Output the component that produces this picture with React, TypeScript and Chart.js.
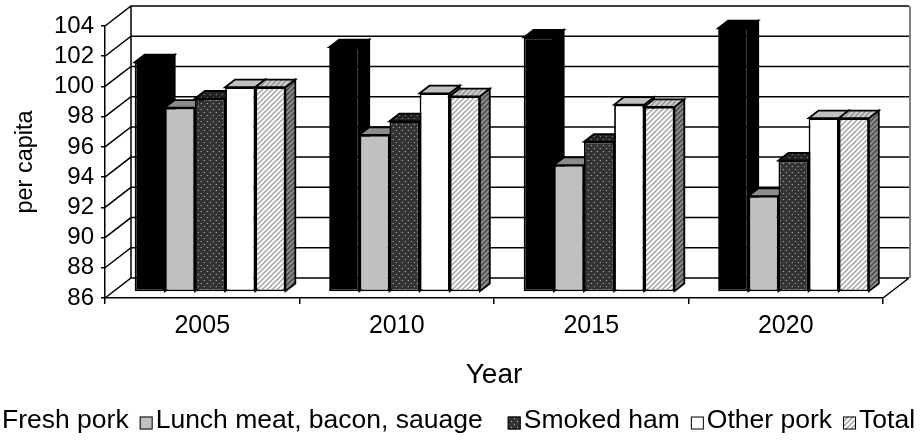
import React, { useEffect, useRef } from 'react';
import { Chart, registerables } from 'chart.js';

Chart.register(...registerables);

// ---------- data ----------
const years = ['2005', '2010', '2015', '2020'];
const seriesNames = ['Fresh pork', 'Lunch meat, bacon, sauage', 'Smoked ham', 'Other pork', 'Total'];
const freshPork = [101.2, 102.2, 102.85, 103.45];
const lunchMeat = [98.2, 96.4, 94.4, 92.35];
const smokedHam = [98.8, 97.3, 95.95, 94.7];
const otherPork = [99.55, 99.15, 98.4, 97.5];
const totalPork = [99.55, 98.95, 98.25, 97.5];
const yMin = 86;
const yMax = 104;
const yStep = 2;
const xTitle = 'Year';
const yTitle = 'per capita';

// ---------- style ----------
const FONT = '"Liberation Sans", Arial, sans-serif';
const DEPTH_X = 26; // full floor depth (oblique projection)
const DEPTH_Y = -20;
const BAR_FRONT = 0.3; // bars' front plane, fraction of depth
const BAR_DEPTH = 0.38; // bars' depth, fraction of depth
const OUTLINE = 1.8;

function makePattern(kind: string, bg: string, fg: string): CanvasPattern | string {
  const c = document.createElement('canvas');
  const s = kind === 'dots' ? 6 : 5;
  c.width = s;
  c.height = s;
  const g = c.getContext('2d');
  if (!g) return bg;
  g.fillStyle = bg;
  g.fillRect(0, 0, s, s);
  if (kind === 'dots') {
    g.fillStyle = fg;
    g.fillRect(1, 1, 1, 1);
    g.fillRect(4, 4, 1, 1);
  } else {
    g.strokeStyle = fg;
    g.lineWidth = 1.3;
    g.beginPath();
    g.moveTo(-1, s + 1);
    g.lineTo(s + 1, -1);
    g.moveTo(-1, 1);
    g.lineTo(1, -1);
    g.moveTo(s - 1, s + 1);
    g.lineTo(s + 1, s - 1);
    g.stroke();
  }
  return g.createPattern(c, 'repeat') || bg;
}

export default function App() {
  const ref = useRef<HTMLCanvasElement | null>(null);

  useEffect(() => {
    const canvas = ref.current;
    if (!canvas) return;

    const fronts: any[] = [
      '#000000',
      '#c0c0c0',
      makePattern('dots', '#333333', '#bdbdbd'),
      '#ffffff',
      makePattern('hatch', '#ffffff', '#9a9a9a'),
    ];
    const tops: any[] = [
      '#000000',
      '#8c8c8c',
      makePattern('dots', '#222222', '#9a9a9a'),
      '#c0c0c0',
      makePattern('hatch', '#d4d4d4', '#8a8a8a'),
    ];
    const sides: any[] = [
      '#000000',
      '#6e6e6e',
      makePattern('dots', '#1a1a1a', '#808080'),
      '#9a9a9a',
      makePattern('hatch', '#8f8f8f', '#404040'),
    ];

    const values = [freshPork, lunchMeat, smokedHam, otherPork, totalPork];

    const walls = {
      id: 'walls3d',
      beforeDatasetsDraw(chart: any) {
        const { ctx, chartArea: a, scales } = chart;
        const y = scales.y;
        ctx.save();
        ctx.strokeStyle = '#000';
        ctx.lineWidth = 1.5;
        ctx.beginPath();
        for (const t of y.ticks) {
          const py = y.getPixelForValue(t.value);
          ctx.moveTo(a.left, py);
          ctx.lineTo(a.left + DEPTH_X, py + DEPTH_Y);
          ctx.lineTo(a.right + DEPTH_X, py + DEPTH_Y);
        }
        ctx.moveTo(a.left + DEPTH_X, a.top + DEPTH_Y);
        ctx.lineTo(a.left + DEPTH_X, a.bottom + DEPTH_Y);
        ctx.moveTo(a.right, a.bottom);
        ctx.lineTo(a.right + DEPTH_X, a.bottom + DEPTH_Y);
        ctx.stroke();
        ctx.strokeStyle = '#808080';
        ctx.lineWidth = 2;
        ctx.beginPath();
        ctx.moveTo(a.right + DEPTH_X + 1, a.top + DEPTH_Y);
        ctx.lineTo(a.right + DEPTH_X + 1, a.bottom + DEPTH_Y);
        ctx.stroke();
        ctx.restore();
      },
      // Chart.js paints datasets last-to-first; the 3D bars need left-to-right order,
      // so the library's per-dataset pass is skipped and the elements are drawn below.
      beforeDatasetDraw() {
        return false;
      },
      afterDatasetsDraw(chart: any) {
        const { ctx } = chart;
        const ddx = DEPTH_X * BAR_DEPTH;
        const ddy = DEPTH_Y * BAR_DEPTH;
        const metas = seriesNames.map((_, i) => chart.getDatasetMeta(i));
        ctx.save();
        ctx.translate(DEPTH_X * BAR_FRONT, DEPTH_Y * BAR_FRONT);
        ctx.lineJoin = 'miter';
        for (let c = 0; c < years.length; c++) {
          metas.forEach((meta: any, i: number) => {
            const el = meta.data[c];
            if (!el) return;
            const p = el.getProps(['x', 'y', 'base', 'width'], true);
            const l = p.x - p.width / 2;
            const r = p.x + p.width / 2;
            const top = p.y;
            const base = p.base;
            ctx.lineWidth = OUTLINE;
            ctx.strokeStyle = '#000';
            // side face
            ctx.beginPath();
            ctx.moveTo(r, top);
            ctx.lineTo(r + ddx, top + ddy);
            ctx.lineTo(r + ddx, base + ddy);
            ctx.lineTo(r, base);
            ctx.closePath();
            ctx.fillStyle = sides[i];
            ctx.fill();
            ctx.stroke();
            // top face
            ctx.beginPath();
            ctx.moveTo(l, top);
            ctx.lineTo(l + ddx, top + ddy);
            ctx.lineTo(r + ddx, top + ddy);
            ctx.lineTo(r, top);
            ctx.closePath();
            ctx.fillStyle = tops[i];
            ctx.fill();
            ctx.stroke();
            // front face: the library's own bar element
            el.draw(ctx, chart.chartArea);
          });
        }
        ctx.restore();
      },
      afterDraw(chart: any) {
        const { ctx } = chart;
        ctx.save();
        ctx.font = `26.5px ${FONT}`;
        ctx.textBaseline = 'middle';
        ctx.textAlign = 'left';
        const sw = 13;
        const ly = 421;
        let x = 2 - 3 - sw;
        seriesNames.forEach((name, i) => {
          ctx.fillStyle = fronts[i];
          ctx.fillRect(x, ly - sw / 2 + 2, sw, sw);
          ctx.strokeStyle = '#000';
          ctx.lineWidth = 1;
          ctx.strokeRect(x + 0.5, ly - sw / 2 + 2.5, sw - 1, sw - 1);
          ctx.fillStyle = '#000';
          ctx.fillText(name, x + sw + 3, ly);
          const w = ctx.measureText(name).width;
          x += sw + 3 + w + (i === 1 ? 25 : 11);
        });
        ctx.restore();
      },
    };

    const chart = new Chart(canvas, {
      type: 'bar',
      data: {
        labels: years,
        datasets: seriesNames.map((name, i) => ({
          label: name,
          data: values[i],
          base: yMin,
          backgroundColor: fronts[i],
          borderColor: '#000',
          borderWidth: OUTLINE,
          borderSkipped: false,
          clip: false,
          categoryPercentage: 0.775,
          barPercentage: 1,
        })),
      },
      options: {
        responsive: false,
        animation: false,
        devicePixelRatio: 1,
        events: [],
        layout: { padding: { left: 0, top: 26, right: 38, bottom: 40 } },
        plugins: { legend: { display: false }, tooltip: { enabled: false } },
        scales: {
          x: {
            grid: {
              display: true,
              drawOnChartArea: false,
              drawTicks: true,
              tickLength: 6,
              offset: true,
              color: '#000',
              lineWidth: 1.5,
            },
            border: { display: true, color: '#000', width: 1.5 },
            ticks: {
              color: '#000',
              font: { family: FONT, size: 25 },
              padding: 7,
              maxRotation: 0,
              autoSkip: false,
            },
            title: {
              display: true,
              text: xTitle,
              color: '#000',
              font: { family: FONT, size: 28 },
              padding: { top: 0, bottom: 8 },
            },
            afterFit: (s: any) => {
              s.height = 102;
            },
          },
          y: {
            min: yMin,
            max: yMax,
            grid: {
              drawOnChartArea: false,
              drawTicks: true,
              tickLength: 4,
              color: '#000',
              lineWidth: 1.5,
            },
            border: { display: true, color: '#000', width: 1.5 },
            ticks: {
              stepSize: yStep,
              autoSkip: false,
              color: '#000',
              font: { family: FONT, size: 24 },
              padding: 7,
            },
            title: {
              display: true,
              text: yTitle,
              color: '#000',
              font: { family: FONT, size: 23.5 },
              padding: { top: 11, bottom: 0 },
            },
            afterFit: (s: any) => {
              s.width = 105;
            },
          },
        },
      } as any,
      plugins: [walls],
    });

    return () => chart.destroy();
  }, []);

  return (
    <div style={{ position: 'fixed', left: 0, top: 0, width: 921, height: 440, background: '#fff' }}>
      <canvas ref={ref} width={921} height={440} />
    </div>
  );
}
